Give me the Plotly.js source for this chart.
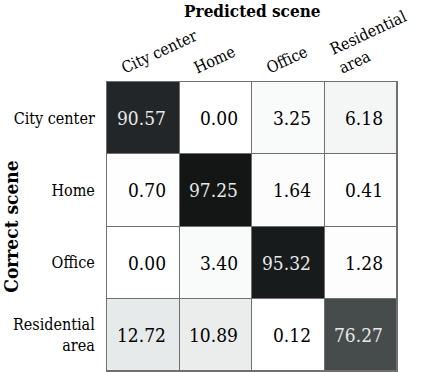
<!DOCTYPE html>
<html>
<head>
<meta charset="utf-8">
<script src="https://cdn.plot.ly/plotly-3.0.1.min.js"></script>
<style>
body { margin: 0; background: #fff; }
#cm { width: 424px; height: 372px; }
</style>
</head>
<body>
<div id="cm"></div>
<script>
let predicted = ['City center', 'Home', 'Office', 'Residential<br>area']
let correct = ['City center', 'Home', 'Office', 'Residential<br>area']

let row_city = [90.57, 0.00, 3.25, 6.18]
let row_home = [0.70, 97.25, 1.64, 0.41]
let row_office = [0.00, 3.40, 95.32, 1.28]
let row_resid = [12.72, 10.89, 0.12, 76.27]

let z = [row_city, row_home, row_office, row_resid]

// Liberation Serif is not picked up here, DejaVu Serif Condensed is closest to Times
let serif = '"DejaVu Serif Condensed", "DejaVu Serif", serif'

let annotations = []
for(let r=0;r<z.length;r++){
	for(let c=0;c<z[r].length;c++){
		annotations.push({
			x: c + 0.34,
			y: r,
			xref: 'x',
			yref: 'y',
			xanchor: 'right',
			yanchor: 'middle',
			text: z[r][c].toFixed(2),
			showarrow: false,
			font: {family: serif, size: 19, color: z[r][c] > 50 ? '#e8e8e8' : '#000'}
		})
	}
}

let trace = {
	type: 'heatmap',
	z: z,
	x: [0, 1, 2, 3],
	y: [0, 1, 2, 3],
	zmin: 0,
	zmax: 97.25,
	colorscale: [
		[0, '#ffffff'],
		[0.0636, '#f4f5f5'],
		[0.1308, '#e7eaea'],
		[0.7843, '#464b4c'],
		[0.9313, '#222628'],
		[1, '#141616']
	],
	showscale: false,
	xgap: 1,
	ygap: 1,
	hoverinfo: 'skip'
}

Plotly.newPlot('cm', [trace], {
	width: 424,
	height: 372,
	margin: {l: 107, r: 27, t: 82, b: 1},
	paper_bgcolor: '#fff',
	plot_bgcolor: '#707070',
	font: {family: serif, color: '#000'},
	title: {
		text: '<b>Predicted scene</b>',
		font: {family: serif, size: 17, color: '#000'},
		x: 0.595,
		xanchor: 'center',
		y: 0.985,
		yanchor: 'top'
	},
	xaxis: {
		side: 'top',
		tickmode: 'array',
		tickvals: [0, 1, 2, 3],
		ticktext: predicted,
		tickangle: -25,
		ticklabeloverflow: 'allow',
		ticklabelshift: -22,
		tickfont: {family: serif, size: 16, color: '#000'},
		ticks: '',
		showgrid: false,
		zeroline: false,
		showline: true,
		mirror: true,
		linecolor: '#707070',
		linewidth: 1,
		range: [-0.5, 3.5],
		fixedrange: true
	},
	yaxis: {
		tickmode: 'array',
		tickvals: [0, 1, 2, 3],
		ticktext: correct,
		autorange: 'reversed',
		tickfont: {family: serif, size: 16, color: '#000'},
		ticks: '',
		ticklabelstandoff: 8,
		showgrid: false,
		zeroline: false,
		showline: true,
		mirror: true,
		linecolor: '#707070',
		linewidth: 1,
		title: {
			text: '<b>Correct scene</b>',
			font: {family: serif, size: 19, color: '#000'},
			standoff: 6
		},
		fixedrange: true
	},
	annotations: annotations
}, {displayModeBar: false, staticPlot: true})
</script>
</body>
</html>
